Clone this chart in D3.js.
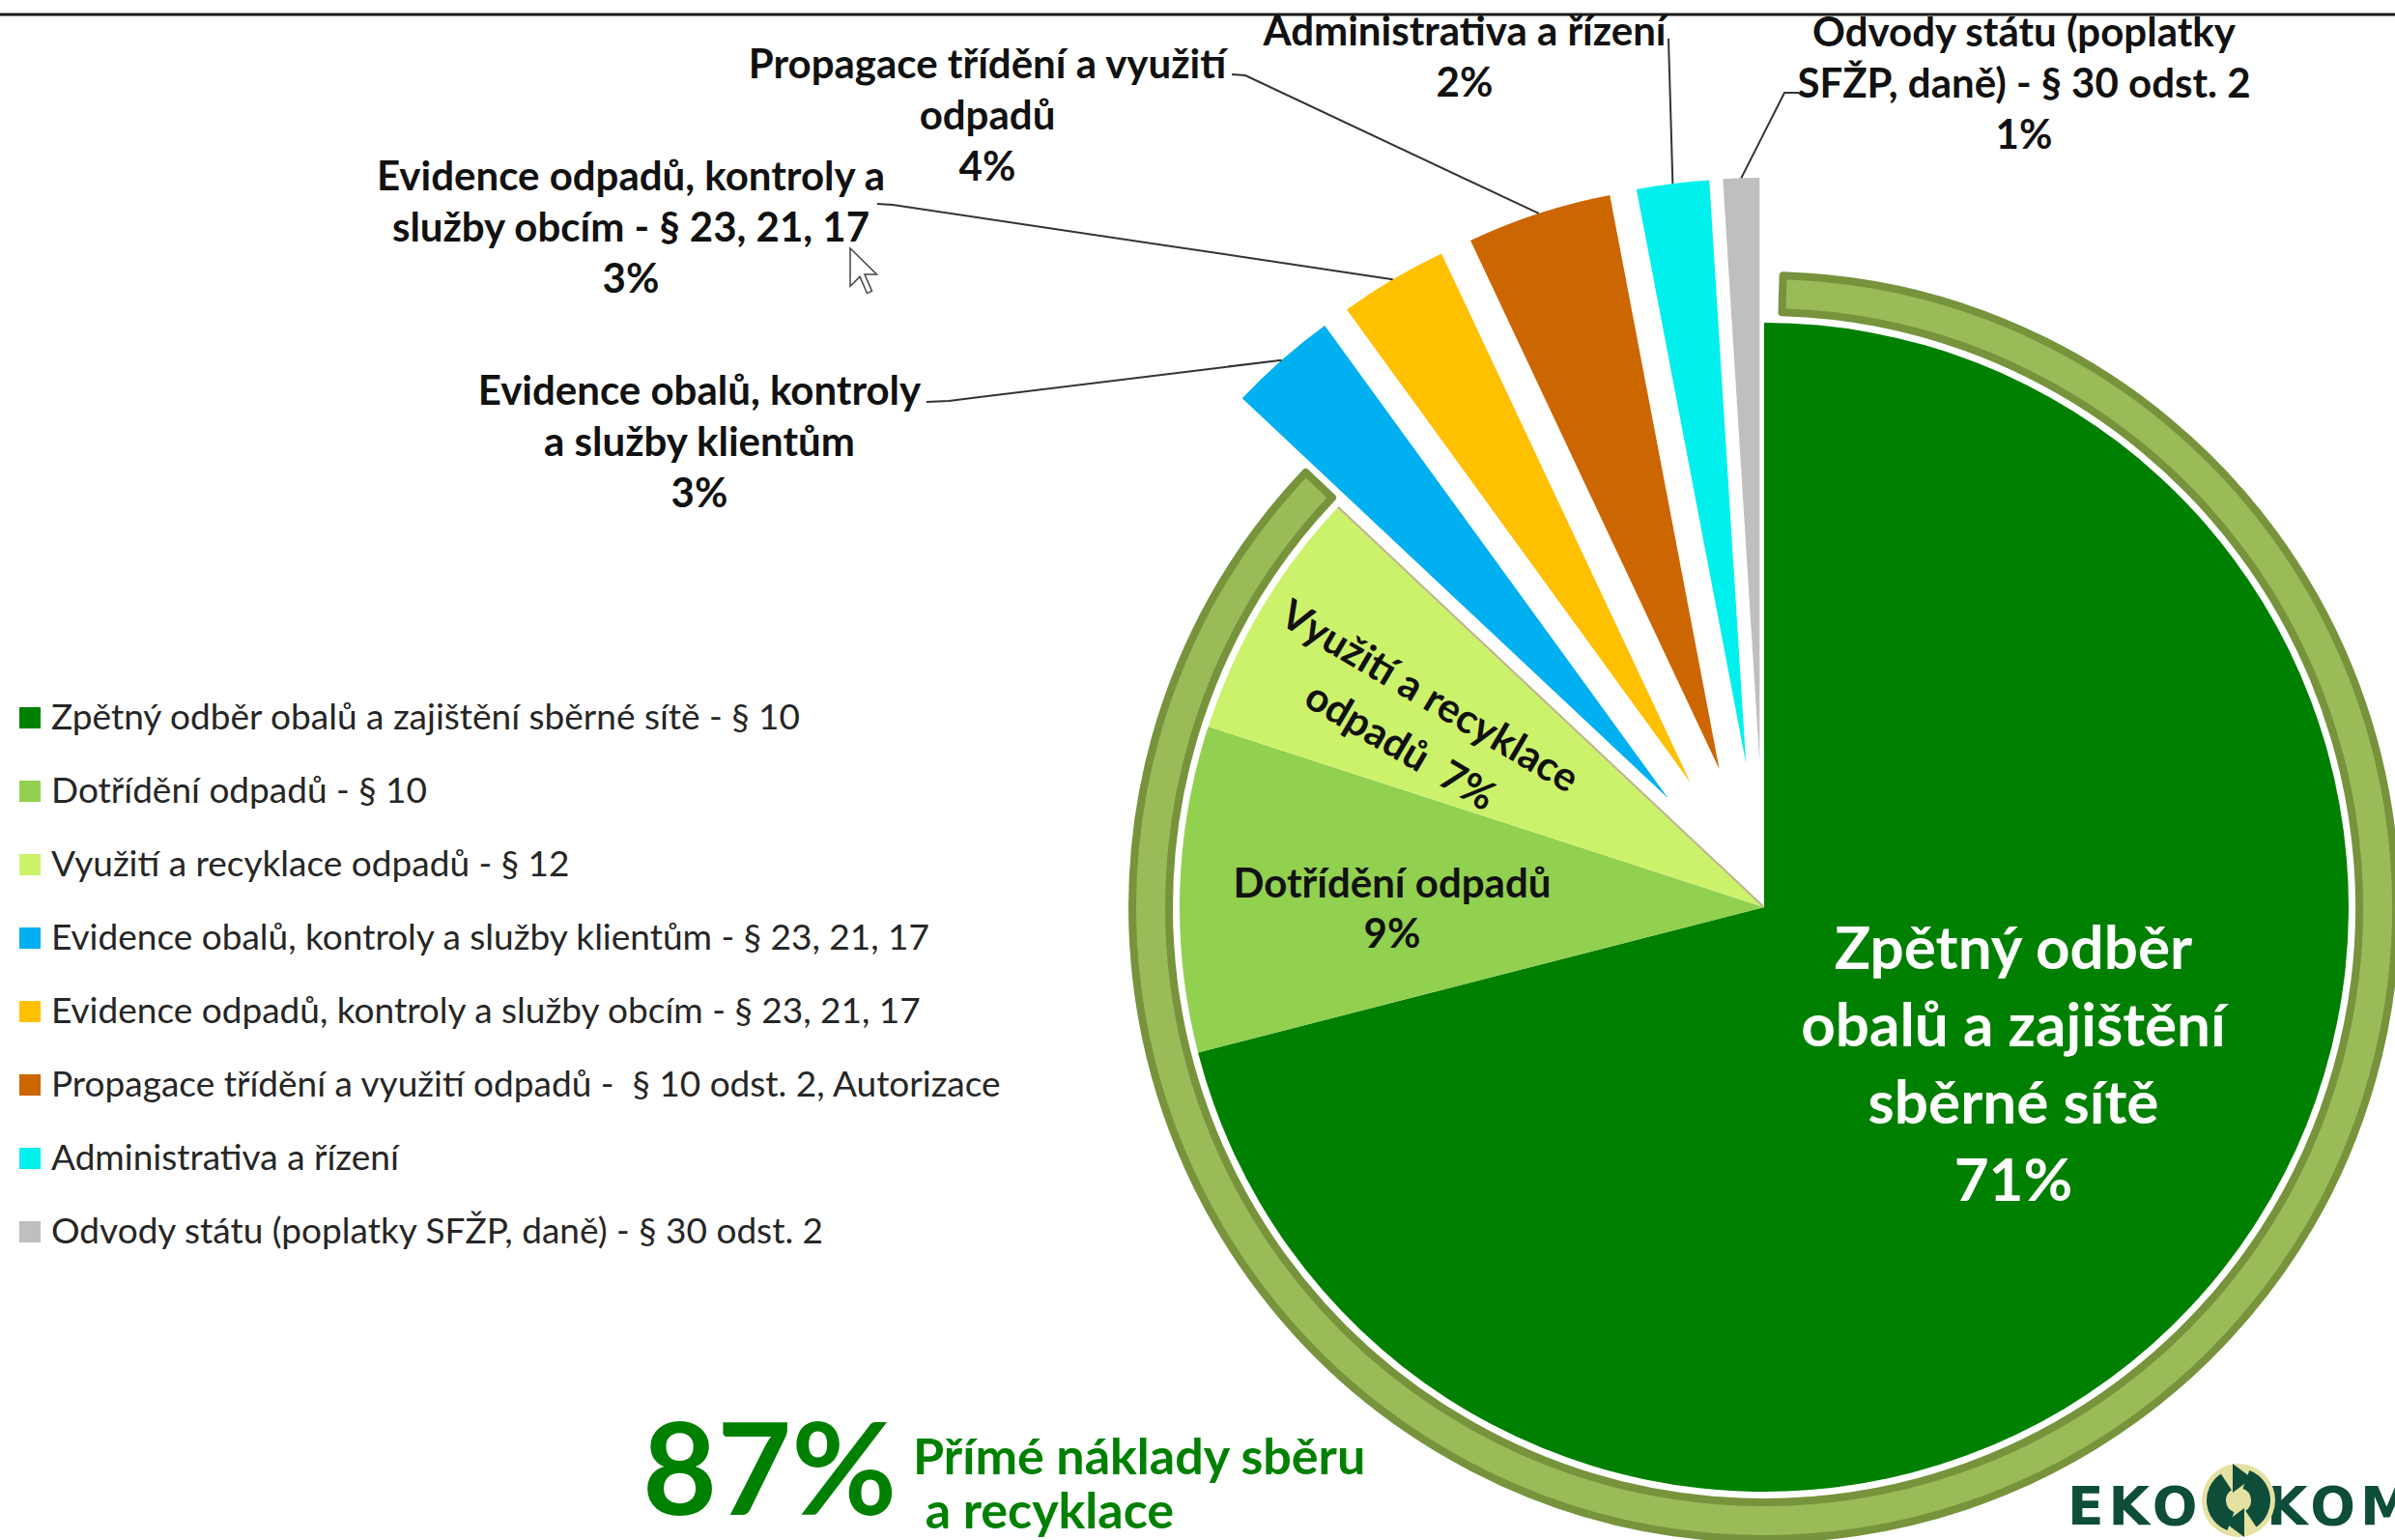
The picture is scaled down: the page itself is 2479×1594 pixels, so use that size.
<!DOCTYPE html>
<html>
<head>
<meta charset="utf-8">
<script src="https://cdn.jsdelivr.net/npm/d3@7"></script>
<style>
  body { margin: 0; background: #fff; }
  svg { display: block; font-family: Lato, "Open Sans", sans-serif; }
</style>
</head>
<body>
<svg id="chart" width="2479" height="1594"></svg>
<script>
// data
var categories = [
  'Zpětný odběr obalů a zajištění sběrné sítě - § 10',
  'Dotřídění odpadů - § 10',
  'Využití a recyklace odpadů - § 12',
  'Evidence obalů, kontroly a služby klientům - § 23, 21, 17',
  'Evidence odpadů, kontroly a služby obcím - § 23, 21, 17',
  'Propagace třídění a využití odpadů -  § 10 odst. 2, Autorizace',
  'Administrativa a řízení',
  'Odvody státu (poplatky SFŽP, daně) - § 30 odst. 2'
];
var values = [71, 9, 7, 3, 3, 4, 2, 1];
var labelLines = [
  ['Zpětný odběr', 'obalů a zajištění', 'sběrné sítě'],
  ['Dotřídění odpadů'],
  ['Využití a recyklace', 'odpadů '],
  ['Evidence obalů, kontroly', 'a služby klientům'],
  ['Evidence odpadů, kontroly a', 'služby obcím - § 23, 21, 17'],
  ['Propagace třídění a využití', 'odpadů'],
  ['Administrativa a řízení'],
  ['Odvody státu (poplatky', 'SFŽP, daně) - § 30 odst. 2']
];
var exploded = [false, false, false, true, true, true, true, true];
var colors = ['#008000', '#92D050', '#CCF26C', '#00B0F0', '#FFC000', '#CC6600', '#00F0EE', '#BFBFBF'];
var directShare = 87;
var directText = ['Přímé náklady sběru', ' a recyklace'];

var svg = d3.select('#chart');
var cx = 1826, cy = 939, radius = 605, explode = 150;

// label layout (screen positions)
var layout = [
  {x: 2084, y: 1003, lh: 80, size: 62, fill: '#fff'},
  {x: 1441, y: 929, lh: 52, size: 42, fill: '#111'},
  {x: 1465, y: 746, lh: 60, size: 42, fill: '#111', rot: 30.5},
  {x: 724, y: 419, lh: 53, size: 42, fill: '#111', lead: [[959, 416], [982, 415]]},
  {x: 653, y: 197, lh: 53, size: 42, fill: '#111', lead: [[908, 211], [924, 212]]},
  {x: 1022, y: 81, lh: 53, size: 42, fill: '#111', lead: [[1275, 77], [1289, 78]]},
  {x: 1516, y: 47, lh: 53, size: 42, fill: '#111', lead: [[1727, 40]]},
  {x: 2095, y: 48, lh: 53, size: 42, fill: '#111', lead: [[1862, 96], [1847, 96]]}
];

// top rule
svg.append('line')
  .attr('x1', 0).attr('x2', 2479)
  .attr('y1', 15).attr('y2', 15)
  .attr('stroke', '#1a1a1a').attr('stroke-width', 3);

var pie = d3.pie().sort(null).value(function(d) { return d; });
var arcs = pie(values);
var arc = d3.arc().innerRadius(0).outerRadius(radius);

var offset = function(d, i) {
  if (!exploded[i]) return [0, 0];
  var m = (d.startAngle + d.endAngle) / 2;
  return [explode * Math.sin(m), -explode * Math.cos(m)];
};

var g = svg.append('g').attr('transform', 'translate(' + cx + ',' + cy + ')');

// ring round the direct cost slices
var ringEnd = arcs[2].endAngle;
g.append('path')
  .attr('d', d3.arc().innerRadius(616).outerRadius(654)
    .startAngle(0.03).endAngle(ringEnd + 0.005)())
  .attr('fill', '#9BBB59')
  .attr('stroke', '#77933C')
  .attr('stroke-width', 8)
  .attr('stroke-linejoin', 'round');

g.selectAll('path.slice')
  .data(arcs)
  .enter()
  .append('path')
  .attr('class', 'slice')
  .attr('transform', function(d, i) { var o = offset(d, i); return 'translate(' + o[0] + ',' + o[1] + ')'; })
  .attr('d', arc)
  .attr('fill', function(d, i) { return colors[i]; });

// thin tan edge seen on the recycling slice
g.append('line')
  .attr('x1', 0).attr('y1', 0)
  .attr('x2', radius * Math.sin(arcs[2].endAngle))
  .attr('y2', -radius * Math.cos(arcs[2].endAngle))
  .attr('stroke', '#BDB48F').attr('stroke-width', 2);

// leader lines to outer arc middle
arcs.forEach(function(d, i) {
  var L = layout[i];
  if (!L.lead) return;
  var o = offset(d, i);
  var m = (d.startAngle + d.endAngle) / 2;
  var end = [cx + o[0] + radius * Math.sin(m), cy + o[1] - radius * Math.cos(m)];
  var pts = L.lead.concat([end]);
  svg.append('path')
    .attr('d', d3.line()(pts))
    .attr('fill', 'none')
    .attr('stroke', '#333')
    .attr('stroke-width', 2);
});

// data labels
arcs.forEach(function(d, i) {
  var L = layout[i];
  var lines = labelLines[i].slice();
  if (i === 2) lines[1] = lines[1] + ' ' + values[i] + '%';
  else lines.push(values[i] + '%');
  var t = svg.append('text')
    .attr('font-weight', 700)
    .attr('font-size', L.size)
    .attr('fill', L.fill)
    .attr('text-anchor', 'middle')
    .style('white-space', 'pre');
  if (L.rot) {
    t.attr('transform', 'translate(' + L.x + ',' + L.y + ') rotate(' + L.rot + ')');
    t.selectAll('tspan').data(lines).enter().append('tspan')
      .attr('x', 0)
      .attr('y', function(s, k) { return -15 + k * L.lh; })
      .text(function(s) { return s; });
  } else {
    t.selectAll('tspan').data(lines).enter().append('tspan')
      .attr('x', L.x)
      .attr('y', function(s, k) { return L.y + k * L.lh; })
      .text(function(s) { return s; });
  }
});

// legend
var ly = d3.scalePoint().domain(categories).range([743, 1275]);
var leg = svg.selectAll('g.leg')
  .data(categories)
  .enter()
  .append('g')
  .attr('class', 'leg')
  .attr('transform', function(d) { return 'translate(20,' + ly(d) + ')'; });
leg.append('rect')
  .attr('x', 0).attr('y', -11)
  .attr('width', 22).attr('height', 22)
  .attr('fill', function(d, i) { return colors[i]; });
leg.append('text')
  .attr('x', 33).attr('y', 12)
  .attr('font-size', 37)
  .attr('fill', '#262626')
  .style('white-space', 'pre')
  .text(function(d) { return d; });

// 87 % note
svg.append('text')
  .attr('x', 665).attr('y', 1568)
  .attr('font-size', 133)
  .attr('font-weight', 700)
  .attr('fill', '#008000')
  .text(directShare + '%');
svg.append('text')
  .attr('font-size', 52)
  .attr('font-weight', 700)
  .attr('fill', '#008000')
  .style('white-space', 'pre')
  .selectAll('tspan')
  .data(directText)
  .enter()
  .append('tspan')
  .attr('x', 945)
  .attr('y', function(d, k) { return 1526 + k * 56; })
  .text(function(d) { return d; });

// EKO-KOM logo
var logo = svg.append('g');
logo.append('text')
  .attr('x', 2140).attr('y', 1578)
  .attr('font-family', 'DejaVu Sans')
  .attr('font-weight', 700)
  .attr('font-size', 55)
  .attr('letter-spacing', 5)
  .attr('fill', '#0E4D3A')
  .text('EKO');
logo.append('text')
  .attr('x', 2346).attr('y', 1578)
  .attr('font-family', 'DejaVu Sans')
  .attr('font-weight', 700)
  .attr('font-size', 55)
  .attr('letter-spacing', 5)
  .attr('fill', '#0E4D3A')
  .text('KOM');
var lg = logo.append('g').attr('transform', 'translate(2317,1553)');
lg.append('circle').attr('r', 38).attr('fill', '#E4E1A2');
var ra = d3.arc().innerRadius(13).outerRadius(33);
lg.append('path').attr('d', ra({startAngle: 0.35, endAngle: 2.55})).attr('fill', '#0E4D3A');
lg.append('path').attr('d', ra({startAngle: 3.5, endAngle: 5.7})).attr('fill', '#0E4D3A');
lg.append('path').attr('d', 'M-6,-38 L14,-23 L-6,-8 Z').attr('fill', '#0E4D3A');
lg.append('path').attr('d', 'M6,38 L-14,23 L6,8 Z').attr('fill', '#0E4D3A');

// mouse pointer caught in the screenshot
var cursor = [[0, 0], [0, 16], [4, 12], [7, 19], [9, 18], [6, 11], [11, 11]];
svg.append('path')
  .attr('d', d3.line()(cursor.map(function(p) { return [880 + p[0] * 2.5, 257 + p[1] * 2.45]; })) + 'Z')
  .attr('fill', '#fff')
  .attr('stroke', '#444')
  .attr('stroke-width', 1.5);
</script>
</body>
</html>
